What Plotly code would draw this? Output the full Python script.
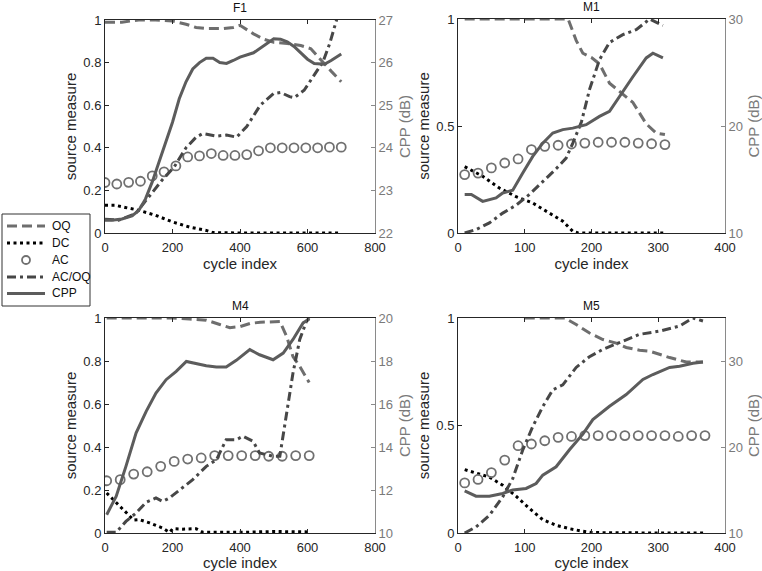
import plotly.graph_objects as go

# ---------------- data ----------------
# F1
f1_oq_x = [0, 50, 100, 150, 200, 240, 270, 300, 350, 380, 400, 420, 440, 470, 500, 540, 580, 610, 630, 650, 670, 700]
f1_oq_y = [0.99, 0.99, 1.0, 1.0, 0.995, 0.98, 0.965, 0.96, 0.96, 0.965, 0.975, 0.955, 0.935, 0.91, 0.895, 0.89, 0.88, 0.865, 0.83, 0.79, 0.76, 0.71]
f1_dc_x = [0, 30, 60, 100, 150, 200, 250, 300, 320, 350, 400, 500, 600, 700]
f1_dc_y = [0.13, 0.13, 0.12, 0.107, 0.083, 0.052, 0.028, 0.012, 0.002, 0.0, 0.0, 0.0, 0.0, 0.0]
f1_ac_x = [0, 35, 70, 105, 140, 175, 210, 245, 280, 315, 350, 385, 420, 455, 490, 525, 560, 595, 630, 665, 700]
f1_ac_y = [0.237, 0.23, 0.238, 0.243, 0.268, 0.287, 0.315, 0.357, 0.362, 0.373, 0.364, 0.364, 0.368, 0.386, 0.40, 0.40, 0.40, 0.40, 0.40, 0.403, 0.403]
f1_acoq_x = [0, 40, 90, 130, 170, 205, 240, 270, 290, 330, 360, 390, 420, 440, 460, 500, 520, 547, 560, 590, 617, 646, 666, 686, 700]
f1_acoq_y = [0.065, 0.06, 0.09, 0.17, 0.25, 0.31, 0.40, 0.45, 0.467, 0.455, 0.46, 0.45, 0.50, 0.55, 0.60, 0.655, 0.66, 0.64, 0.635, 0.67, 0.733, 0.804, 0.89, 1.0, 1.05]
f1_cpp_x = [0, 20, 50, 80, 100, 120, 140, 160, 180, 200, 220, 240, 260, 280, 300, 320, 340, 360, 380, 400, 440, 470, 500, 520, 540, 560, 580, 600, 620, 650, 670, 700]
f1_cpp_db = [22.30, 22.30, 22.33, 22.40, 22.53, 22.80, 23.20, 23.65, 24.10, 24.60, 25.15, 25.55, 25.85, 26.00, 26.10, 26.10, 26.00, 25.98, 26.05, 26.13, 26.23, 26.40, 26.56, 26.55, 26.49, 26.38, 26.23, 26.08, 25.98, 25.96, 26.05, 26.20]

# M1
m1_oq_x = [10, 50, 100, 150, 165, 177, 187, 200, 212, 227, 242, 262, 282, 297, 310]
m1_oq_y = [1.0, 1.0, 1.0, 1.0, 1.0, 0.90, 0.84, 0.82, 0.79, 0.70, 0.66, 0.61, 0.51, 0.467, 0.46]
m1_dc_x = [10, 37, 62, 87, 112, 137, 157, 172, 180, 250, 310]
m1_dc_y = [0.31, 0.265, 0.21, 0.17, 0.14, 0.093, 0.055, 0.008, 0.0, 0.0, 0.0]
m1_ac_x = [10, 30, 50, 70, 90, 110, 130, 150, 170, 190, 210, 230, 250, 270, 290, 310]
m1_ac_y = [0.273, 0.28, 0.304, 0.327, 0.346, 0.39, 0.405, 0.41, 0.416, 0.42, 0.424, 0.424, 0.424, 0.42, 0.417, 0.413]
m1_acoq_x = [10, 27, 47, 67, 87, 107, 127, 147, 162, 172, 185, 197, 212, 227, 247, 267, 287, 307]
m1_acoq_y = [0.0, 0.016, 0.047, 0.093, 0.13, 0.18, 0.24, 0.30, 0.35, 0.42, 0.52, 0.67, 0.81, 0.89, 0.927, 0.95, 1.0, 0.97]
m1_cpp_x = [10, 20, 37, 57, 67, 82, 97, 112, 127, 142, 157, 172, 192, 212, 227, 242, 262, 282, 292, 307]
m1_cpp_db = [13.6, 13.6, 12.96, 13.28, 13.74, 14.0, 15.6, 17.16, 18.4, 19.34, 19.66, 19.8, 20.12, 20.9, 21.38, 22.8, 24.6, 26.36, 26.8, 26.36]

# M4
m4_oq_x = [5, 100, 200, 250, 300, 340, 370, 400, 430, 460, 518, 538, 557, 577, 605]
m4_oq_y = [1.0, 1.0, 1.0, 0.995, 0.99, 0.97, 0.955, 0.96, 0.975, 0.98, 0.984, 0.915, 0.82, 0.775, 0.70]
m4_dc_x = [5, 43, 72, 85, 102, 132, 171, 191, 201, 230, 270, 290, 400, 500, 605]
m4_dc_y = [0.186, 0.124, 0.078, 0.06, 0.062, 0.047, 0.023, 0.003, 0.02, 0.018, 0.02, 0.003, 0.003, 0.007, 0.005]
m4_ac_x = [5, 45, 85, 125, 165, 205, 245, 285, 325, 365, 405, 445, 485, 525, 565, 605]
m4_ac_y = [0.243, 0.248, 0.274, 0.285, 0.31, 0.333, 0.344, 0.349, 0.36, 0.36, 0.36, 0.36, 0.357, 0.357, 0.36, 0.36]
m4_acoq_x = [5, 33, 62, 92, 122, 151, 171, 191, 221, 260, 300, 330, 359, 389, 409, 439, 458, 498, 518, 538, 557, 577, 597, 605]
m4_acoq_y = [0.003, 0.003, 0.054, 0.093, 0.143, 0.163, 0.147, 0.163, 0.20, 0.248, 0.31, 0.34, 0.434, 0.434, 0.45, 0.426, 0.372, 0.357, 0.357, 0.558, 0.744, 0.90, 0.985, 1.0]
m4_cpp_x = [5, 33, 62, 92, 122, 151, 181, 211, 241, 270, 300, 330, 359, 389, 429, 458, 498, 528, 557, 587, 605]
m4_cpp_db = [10.85, 11.7, 13.1, 14.65, 15.66, 16.51, 17.13, 17.52, 17.98, 17.88, 17.78, 17.72, 17.72, 18.03, 18.53, 18.29, 18.06, 18.37, 19.0, 19.77, 19.95]

# M5
m5_oq_x = [100, 130, 160, 177, 197, 217, 237, 252, 272, 287, 317, 342, 367]
m5_oq_y = [1.0, 1.0, 1.0, 0.97, 0.93, 0.90, 0.883, 0.863, 0.85, 0.846, 0.816, 0.795, 0.795]
m5_dc_x = [10, 27, 47, 67, 87, 107, 127, 147, 167, 187, 200, 300, 370]
m5_dc_y = [0.295, 0.28, 0.26, 0.222, 0.171, 0.114, 0.062, 0.036, 0.02, 0.008, 0.002, 0.0, 0.0]
m5_ac_x = [10, 30, 50, 70, 90, 110, 130, 150, 170, 190, 210, 230, 250, 270, 290, 310, 330, 350, 370]
m5_ac_y = [0.233, 0.249, 0.281, 0.339, 0.406, 0.414, 0.429, 0.445, 0.449, 0.453, 0.453, 0.453, 0.453, 0.453, 0.453, 0.453, 0.449, 0.453, 0.453]
m5_acoq_x = [10, 27, 47, 67, 82, 97, 112, 127, 142, 157, 177, 197, 217, 242, 272, 302, 332, 352, 367]
m5_acoq_y = [0.0, 0.028, 0.082, 0.168, 0.253, 0.386, 0.495, 0.588, 0.666, 0.689, 0.77, 0.82, 0.854, 0.886, 0.924, 0.939, 0.963, 1.0, 0.986]
m5_cpp_x = [10, 27, 47, 67, 82, 102, 117, 127, 147, 167, 187, 202, 227, 252, 277, 292, 317, 332, 352, 367]
m5_cpp_db = [14.9, 14.28, 14.28, 14.6, 15.0, 15.18, 15.75, 16.73, 17.7, 19.68, 21.5, 23.18, 24.73, 26.1, 27.85, 28.43, 29.25, 29.38, 29.73, 29.88]

titles = ["F1", "M1", "M4", "M5"]
legend_names = ["OQ", "DC", "AC", "AC/OQ", "CPP"]

# ---------------- styles ----------------
FONT = "Liberation Sans, Arial, sans-serif"
C_OQ = "#6e6e6e"
C_DC = "#000000"
C_AC = "#707070"
C_ACOQ = "#474747"
C_CPP = "#5c5c5c"
AX_DARK = "#262626"
AX_GRAY = "#8a8a8a"
R_TXT = "#7a7a7a"

DASH_OQ = "10px,5px"
DASH_DC = "3px,3.5px"
DASH_ACOQ = "9px,4px,3px,4px"

W, H = 762, 571
def px_x(a, b):
    return [a / W, b / W]
def px_y(top, bottom):
    return [(H - bottom) / H, (H - top) / H]
def fx(px):
    return px / W
def fy(py):
    return 1 - py / H

panels = [
    dict(xd=px_x(105, 375), yd=px_y(20, 233),
         data=(f1_oq_x, f1_oq_y, f1_dc_x, f1_dc_y, f1_ac_x, f1_ac_y, f1_acoq_x, f1_acoq_y, f1_cpp_x, f1_cpp_db),
         xr=[0, 800], xdt=200, ldt=0.2, rr=[22, 27], rdt=1),
    dict(xd=px_x(458, 725), yd=px_y(19, 233),
         data=(m1_oq_x, m1_oq_y, m1_dc_x, m1_dc_y, m1_ac_x, m1_ac_y, m1_acoq_x, m1_acoq_y, m1_cpp_x, m1_cpp_db),
         xr=[0, 400], xdt=100, ldt=0.5, rr=[10, 30], rdt=10),
    dict(xd=px_x(105, 375), yd=px_y(318, 533),
         data=(m4_oq_x, m4_oq_y, m4_dc_x, m4_dc_y, m4_ac_x, m4_ac_y, m4_acoq_x, m4_acoq_y, m4_cpp_x, m4_cpp_db),
         xr=[0, 800], xdt=200, ldt=0.2, rr=[10, 20], rdt=2),
    dict(xd=px_x(458, 725), yd=px_y(318, 533),
         data=(m5_oq_x, m5_oq_y, m5_dc_x, m5_dc_y, m5_ac_x, m5_ac_y, m5_acoq_x, m5_acoq_y, m5_cpp_x, m5_cpp_db),
         xr=[0, 400], xdt=100, ldt=0.5, rr=[10, 35], rdt=10),
]

fig = go.Figure()
layout = dict(
    width=W, height=H, margin=dict(l=0, r=0, t=0, b=0, autoexpand=False),
    paper_bgcolor="white", plot_bgcolor="white",
    font=dict(family=FONT, color=AX_DARK),
    showlegend=False,
)
annotations = []
shapes = []

for i, p in enumerate(panels):
    k = i + 1
    xname = "x" if k == 1 else f"x{k}"
    yl = 2 * i + 1
    yr = 2 * i + 2
    ylname = "y" if yl == 1 else f"y{yl}"
    yrname = f"y{yr}"
    oqx, oqy, dcx, dcy, acx, acy, aqx, aqy, cx, cy = p["data"]
    fig.add_trace(go.Scatter(x=oqx, y=oqy, mode="lines", name="OQ", xaxis=xname, yaxis=ylname,
                             line=dict(color=C_OQ, width=3, dash=DASH_OQ)))
    fig.add_trace(go.Scatter(x=dcx, y=dcy, mode="lines", name="DC", xaxis=xname, yaxis=ylname,
                             line=dict(color=C_DC, width=3, dash=DASH_DC)))
    fig.add_trace(go.Scatter(x=acx, y=acy, mode="markers", name="AC", xaxis=xname, yaxis=ylname,
                             marker=dict(symbol="circle-open", size=9, color=C_AC, line=dict(width=1.8, color=C_AC))))
    fig.add_trace(go.Scatter(x=aqx, y=aqy, mode="lines", name="AC/OQ", xaxis=xname, yaxis=ylname,
                             line=dict(color=C_ACOQ, width=3, dash=DASH_ACOQ)))
    fig.add_trace(go.Scatter(x=cx, y=cy, mode="lines", name="CPP", xaxis=xname, yaxis=yrname,
                             line=dict(color=C_CPP, width=3)))

    layout["xaxis" if k == 1 else f"xaxis{k}"] = dict(
        domain=p["xd"], anchor=ylname, range=p["xr"], dtick=p["xdt"], tick0=0,
        showgrid=False, zeroline=False, showline=True, linecolor=AX_DARK, linewidth=1,
        mirror="ticks", ticks="inside", ticklen=4, tickcolor=AX_DARK, ticklabelstandoff=2,
        tickfont=dict(size=13, color=AX_DARK, family=FONT),
        title=dict(text="cycle index", font=dict(size=15, color=AX_DARK, family=FONT), standoff=2),
    )
    layout["yaxis" if yl == 1 else f"yaxis{yl}"] = dict(
        domain=p["yd"], anchor=xname, range=[0, 1], dtick=p["ldt"], tick0=0,
        showgrid=False, zeroline=False, showline=True, linecolor=AX_DARK, linewidth=1,
        ticks="inside", ticklen=4, tickcolor=AX_DARK, side="left",
        tickfont=dict(size=13, color=AX_DARK, family=FONT),
        title=dict(text="source measure", font=dict(size=15, color=AX_DARK, family=FONT), standoff=3),
    )
    layout[f"yaxis{yr}"] = dict(
        anchor=xname, overlaying=ylname, side="right", range=p["rr"], dtick=p["rdt"], tick0=p["rr"][0],
        showgrid=False, zeroline=False, showline=True, linecolor=AX_GRAY, linewidth=1,
        ticks="inside", ticklen=4, tickcolor=AX_GRAY,
        tickfont=dict(size=13, color=R_TXT, family=FONT),
        title=dict(text="CPP (dB)", font=dict(size=15, color=R_TXT, family=FONT), standoff=7),
    )
    annotations.append(dict(text=titles[i], x=(p["xd"][0] + p["xd"][1]) / 2, y=p["yd"][1],
                            xref="paper", yref="paper", xanchor="center", yanchor="bottom",
                            yshift=3, showarrow=False, font=dict(size=12, color="#111111", family=FONT)))

# ---------------- legend (drawn box, like the original figure) ----------------
LEG_L, LEG_R, LEG_T, LEG_B = 2, 90, 214, 306
shapes.append(dict(type="rect", xref="paper", yref="paper", x0=fx(LEG_L), x1=fx(LEG_R), y0=fy(LEG_B), y1=fy(LEG_T),
                   line=dict(color="#333333", width=1), fillcolor="white", layer="above"))
row_y = [226, 243, 260, 277, 293.5]
styles = [
    dict(kind="line", color=C_OQ, dash=DASH_OQ),
    dict(kind="line", color=C_DC, dash=DASH_DC),
    dict(kind="marker", color=C_AC),
    dict(kind="line", color=C_ACOQ, dash=DASH_ACOQ),
    dict(kind="line", color=C_CPP, dash="solid"),
]
for name, ry, st in zip(legend_names, row_y, styles):
    if st["kind"] == "line":
        shapes.append(dict(type="line", xref="paper", yref="paper", x0=fx(7), x1=fx(45), y0=fy(ry), y1=fy(ry),
                           line=dict(color=st["color"], width=3, dash=st["dash"]), layer="above"))
    else:
        r = 4
        shapes.append(dict(type="circle", xref="paper", yref="paper", x0=fx(26 - r), x1=fx(26 + r),
                           y0=fy(ry + r), y1=fy(ry - r), line=dict(color=st["color"], width=1.8), layer="above"))
    annotations.append(dict(text=name, x=fx(50), y=fy(ry), xref="paper", yref="paper", xanchor="left",
                            yanchor="middle", showarrow=False, font=dict(size=12, color="#111111", family=FONT)))

layout["annotations"] = annotations
layout["shapes"] = shapes
fig.update_layout(**layout)
fig.write_html("out.html", config={"displayModeBar": False},
               post_script="document.body.style.margin='0px';")
